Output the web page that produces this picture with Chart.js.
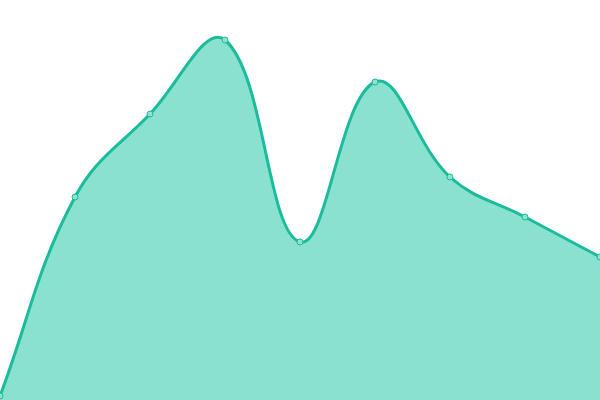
<!DOCTYPE html>
<html>
<head>
<meta charset="utf-8">
<script src="https://cdn.jsdelivr.net/npm/chart.js@4"></script>
<style>
  html, body { margin: 0; padding: 0; background: #fff; }
  #wrap { width: 600px; height: 400px; }
</style>
</head>
<body>
<div id="wrap"><canvas id="myChart"></canvas></div>
<script>
const labels = ['1', '2', '3', '4', '5', '6', '7', '8', '9'];
const values = [1, 50.75, 71.5, 90, 39.5, 79.5, 55.75, 45.75, 35.75];

const ctx = document.getElementById('myChart').getContext('2d');

const myChart = new Chart(ctx, {
    type: 'line',
    data: {
        labels: labels,
        datasets: [{
            data: values,
            fill: true,
            borderColor: '#1abc9c',
            backgroundColor: 'rgba(22, 196, 160, 0.5)',
            borderWidth: 3,
            pointRadius: 3,
            pointBorderWidth: 1,
            pointBackgroundColor: '#8fe2d0',
            pointBorderColor: '#1abc9c',
            tension: 0.4
        }]
    },
    options: {
        responsive: true,
        maintainAspectRatio: false,
        animation: false,
        layout: { padding: 0, autoPadding: false },
        plugins: {
            legend: { display: false },
            tooltip: { enabled: false }
        },
        scales: {
            x: { display: false },
            y: { display: false, min: 0, max: 100 }
        }
    }
});
</script>
</body>
</html>
